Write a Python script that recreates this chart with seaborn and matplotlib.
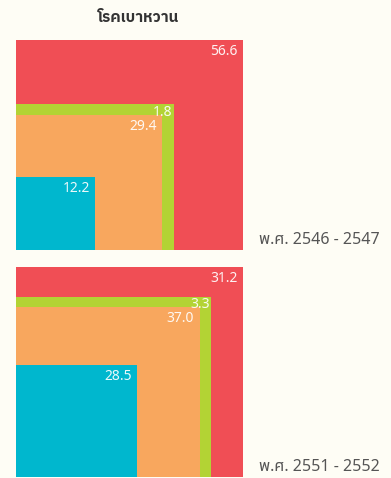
import numpy as np
import matplotlib
matplotlib.use("Agg")
import matplotlib.pyplot as plt
import seaborn as sns

# ข้อมูล (ร้อยละ) - เรียงจากกล่องในสุดออกไปด้านนอก
title = "โรคเบาหวาน"
periods = ["พ.ศ. 2546 - 2547", "พ.ศ. 2551 - 2552"]
shares_2546 = [12.2, 29.4, 1.8, 56.6]
shares_2551 = [28.5, 37.0, 3.3, 31.2]
colors = ["#00B7CE", "#F8A75E", "#B3D334", "#F04E55"]

bg = "#FEFDF5"
sns.set_theme(style="white", rc={"figure.facecolor": bg, "axes.facecolor": bg})
plt.rcParams["font.family"] = ["Noto Sans Thai", "DejaVu Sans"]

W, H = 391, 478
fig = plt.figure(figsize=(W / 100, H / 100), dpi=100)

MIN_BAND = 0.05  # ความหนาขั้นต่ำของแถบ ให้ค่าเล็ก ๆ ยังมองเห็น


def box_sides(shares):
    cum = np.sqrt(np.cumsum(shares) / 100.0)
    sides = []
    prev = 0.0
    for i, s in enumerate(cum):
        if i > 0 and i < len(cum) - 1:
            s = max(s, prev + MIN_BAND)
        sides.append(min(s, 1.0))
        prev = sides[-1]
    return sides


def draw_panel(ax, shares, period):
    sides = box_sides(shares)
    # กล่องใหญ่วาดก่อน กล่องเล็กทับด้านบน
    for i in range(len(shares) - 1, -1, -1):
        side = sides[i]
        ax.bar(0, side, width=side, align="edge", color=colors[i], linewidth=0)
        band = side - (sides[i - 1] if i > 0 else 0)
        pad = (-1, -0.5) if band < 0.08 else (-4, -3)
        ax.annotate(f"{shares[i]:.1f}", xy=(side, side), xytext=pad,
                    textcoords="offset points", ha="right", va="top",
                    color="white", alpha=0.92, fontsize=10)
    ax.set_xlim(0, 1)
    ax.set_ylim(0, 1)
    ax.set_axis_off()
    ax.text(1.07, 0.01, period, transform=ax.transAxes, ha="left", va="bottom",
            color="#555555", fontsize=11.5)


ax1 = fig.add_axes([16 / W, (H - 250) / H, 227 / W, 210 / H])
ax2 = fig.add_axes([16 / W, (H - 477) / H, 227 / W, 210 / H])
draw_panel(ax1, shares_2546, periods[0])
draw_panel(ax2, shares_2551, periods[1])

fig.text(138 / W, 1 - 18 / H, title, ha="center", va="center",
         fontsize=11, fontweight="bold", color="#333333",
         family=["IBM Plex Sans Thai", "Noto Sans Thai"])

fig.savefig("out.png", dpi=100, facecolor=bg)
